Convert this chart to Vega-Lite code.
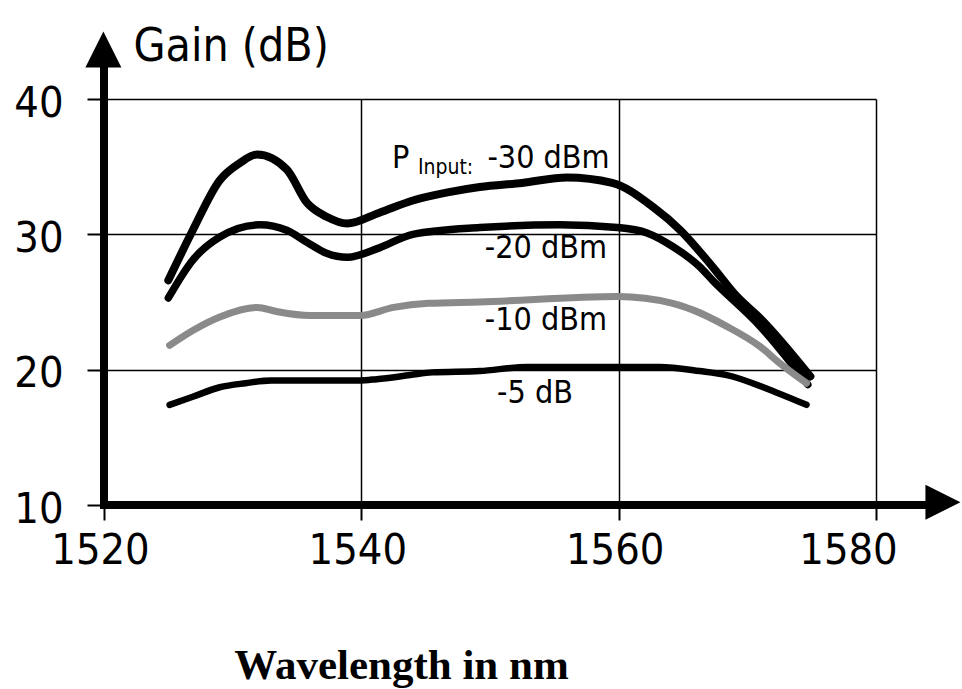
{
  "$schema": "https://vega.github.io/schema/vega-lite/v6.json",
  "width": 772,
  "height": 406,
  "autosize": {"type": "none"},
  "padding": {"left": 104, "top": 99, "right": 86, "bottom": 184},
  "background": "white",
  "config": {
    "view": {"stroke": null},
    "axis": {
      "labelFont": "DejaVu Sans Condensed",
      "labelColor": "black",
      "titleColor": "black",
      "gridColor": "black",
      "gridOpacity": 1,
      "gridWidth": 1.5,
      "tickColor": "black",
      "tickWidth": 2,
      "domain": false,
      "labelFlush": false,
      "labelOverlap": false
    }
  },
  "datasets": {
    "gain": [
      {"power": "-30 dBm", "wavelength": 1525.0, "gain": 26.6},
      {"power": "-30 dBm", "wavelength": 1526.9, "gain": 30.3},
      {"power": "-30 dBm", "wavelength": 1529.0, "gain": 34.0},
      {"power": "-30 dBm", "wavelength": 1530.6, "gain": 35.3},
      {"power": "-30 dBm", "wavelength": 1531.9, "gain": 35.9},
      {"power": "-30 dBm", "wavelength": 1534.2, "gain": 34.8},
      {"power": "-30 dBm", "wavelength": 1535.8, "gain": 32.3},
      {"power": "-30 dBm", "wavelength": 1537.3, "gain": 31.3},
      {"power": "-30 dBm", "wavelength": 1538.9, "gain": 30.8},
      {"power": "-30 dBm", "wavelength": 1541.4, "gain": 31.6},
      {"power": "-30 dBm", "wavelength": 1544.0, "gain": 32.5},
      {"power": "-30 dBm", "wavelength": 1546.7, "gain": 33.1},
      {"power": "-30 dBm", "wavelength": 1549.2, "gain": 33.5},
      {"power": "-30 dBm", "wavelength": 1552.5, "gain": 33.8},
      {"power": "-30 dBm", "wavelength": 1556.0, "gain": 34.2},
      {"power": "-30 dBm", "wavelength": 1559.5, "gain": 33.8},
      {"power": "-30 dBm", "wavelength": 1562.7, "gain": 32.0},
      {"power": "-30 dBm", "wavelength": 1564.8, "gain": 30.3},
      {"power": "-30 dBm", "wavelength": 1567.3, "gain": 27.6},
      {"power": "-30 dBm", "wavelength": 1569.2, "gain": 25.4},
      {"power": "-30 dBm", "wavelength": 1571.0, "gain": 23.8},
      {"power": "-30 dBm", "wavelength": 1574.9, "gain": 19.5},

      {"power": "-20 dBm", "wavelength": 1525.0, "gain": 25.3},
      {"power": "-20 dBm", "wavelength": 1526.9, "gain": 28.1},
      {"power": "-20 dBm", "wavelength": 1529.0, "gain": 29.8},
      {"power": "-20 dBm", "wavelength": 1532.1, "gain": 30.7},
      {"power": "-20 dBm", "wavelength": 1534.2, "gain": 30.3},
      {"power": "-20 dBm", "wavelength": 1535.8, "gain": 29.4},
      {"power": "-20 dBm", "wavelength": 1537.3, "gain": 28.6},
      {"power": "-20 dBm", "wavelength": 1538.9, "gain": 28.3},
      {"power": "-20 dBm", "wavelength": 1541.4, "gain": 29.0},
      {"power": "-20 dBm", "wavelength": 1544.0, "gain": 30.0},
      {"power": "-20 dBm", "wavelength": 1549.2, "gain": 30.5},
      {"power": "-20 dBm", "wavelength": 1555.4, "gain": 30.7},
      {"power": "-20 dBm", "wavelength": 1559.9, "gain": 30.5},
      {"power": "-20 dBm", "wavelength": 1562.2, "gain": 30.1},
      {"power": "-20 dBm", "wavelength": 1564.2, "gain": 29.1},
      {"power": "-20 dBm", "wavelength": 1566.3, "gain": 27.6},
      {"power": "-20 dBm", "wavelength": 1567.3, "gain": 26.6},
      {"power": "-20 dBm", "wavelength": 1571.0, "gain": 23.2},
      {"power": "-20 dBm", "wavelength": 1574.7, "gain": 18.9},

      {"power": "-10 dBm", "wavelength": 1525.1, "gain": 21.8},
      {"power": "-10 dBm", "wavelength": 1526.9, "gain": 22.9},
      {"power": "-10 dBm", "wavelength": 1529.0, "gain": 23.9},
      {"power": "-10 dBm", "wavelength": 1531.9, "gain": 24.6},
      {"power": "-10 dBm", "wavelength": 1533.4, "gain": 24.3},
      {"power": "-10 dBm", "wavelength": 1536.0, "gain": 24.0},
      {"power": "-10 dBm", "wavelength": 1539.9, "gain": 24.0},
      {"power": "-10 dBm", "wavelength": 1542.5, "gain": 24.6},
      {"power": "-10 dBm", "wavelength": 1545.2, "gain": 24.9},
      {"power": "-10 dBm", "wavelength": 1549.2, "gain": 25.0},
      {"power": "-10 dBm", "wavelength": 1559.9, "gain": 25.4},
      {"power": "-10 dBm", "wavelength": 1564.2, "gain": 24.9},
      {"power": "-10 dBm", "wavelength": 1565.8, "gain": 24.4},
      {"power": "-10 dBm", "wavelength": 1568.4, "gain": 23.2},
      {"power": "-10 dBm", "wavelength": 1571.0, "gain": 21.7},
      {"power": "-10 dBm", "wavelength": 1572.5, "gain": 20.5},
      {"power": "-10 dBm", "wavelength": 1574.6, "gain": 19.0},

      {"power": "-5 dB", "wavelength": 1525.1, "gain": 17.4},
      {"power": "-5 dB", "wavelength": 1526.9, "gain": 18.0},
      {"power": "-5 dB", "wavelength": 1529.0, "gain": 18.7},
      {"power": "-5 dB", "wavelength": 1531.0, "gain": 19.0},
      {"power": "-5 dB", "wavelength": 1533.0, "gain": 19.2},
      {"power": "-5 dB", "wavelength": 1539.9, "gain": 19.2},
      {"power": "-5 dB", "wavelength": 1541.2, "gain": 19.3},
      {"power": "-5 dB", "wavelength": 1543.8, "gain": 19.6},
      {"power": "-5 dB", "wavelength": 1545.5, "gain": 19.8},
      {"power": "-5 dB", "wavelength": 1549.2, "gain": 19.9},
      {"power": "-5 dB", "wavelength": 1552.9, "gain": 20.2},
      {"power": "-5 dB", "wavelength": 1563.2, "gain": 20.2},
      {"power": "-5 dB", "wavelength": 1566.3, "gain": 19.9},
      {"power": "-5 dB", "wavelength": 1568.4, "gain": 19.6},
      {"power": "-5 dB", "wavelength": 1572.3, "gain": 18.3},
      {"power": "-5 dB", "wavelength": 1574.6, "gain": 17.4}
    ],
    "labels": [
      {"text": "-30 dBm", "wavelength": 1559.3, "gain": 34.9},
      {"text": "-20 dBm", "wavelength": 1559.1, "gain": 28.26},
      {"text": "-10 dBm", "wavelength": 1559.1, "gain": 22.93},
      {"text": "-5 dB", "wavelength": 1556.45, "gain": 17.54}
    ]
  },
  "layer": [
    {
      "data": {"name": "gain"},
      "mark": {"type": "line", "interpolate": "monotone", "strokeCap": "round", "strokeJoin": "round"},
      "encoding": {
        "x": {
          "field": "wavelength", "type": "quantitative",
          "scale": {"domain": [1520, 1580], "nice": false, "zero": false},
          "axis": {
            "values": [1520, 1540, 1560, 1580],
            "format": "d",
            "grid": true,
            "tickSize": 15,
            "labelFontSize": 43,
            "labelPadding": 9,
            "labelOffset": {"expr": "datum.value == 1580 ? -28 : -4"},
            "title": "Wavelength in nm",
            "titleFont": "Liberation Serif",
            "titleFontSize": 43,
            "titleFontWeight": "bold",
            "titleX": 297,
            "titleY": 173,
            "titleAlign": "center",
            "titleBaseline": "alphabetic"
          }
        },
        "y": {
          "field": "gain", "type": "quantitative",
          "scale": {"domain": [10, 40], "nice": false, "zero": false},
          "axis": {
            "values": [10, 20, 30, 40],
            "format": "d",
            "grid": true,
            "tickSize": 17,
            "labelFontSize": 43,
            "labelPadding": 24,
            "labelOffset": 4,
            "title": "Gain (dB)",
            "titleFont": "DejaVu Sans Condensed",
            "titleFontSize": 46,
            "titleFontWeight": "normal",
            "titleAngle": 0,
            "titleAlign": "left",
            "titleBaseline": "alphabetic",
            "titleX": 29,
            "titleY": -39
          }
        },
        "detail": {"field": "power"},
        "color": {
          "field": "power", "type": "nominal", "legend": null,
          "scale": {"domain": ["-30 dBm", "-20 dBm", "-10 dBm", "-5 dB"], "range": ["black", "black", "#8a8a8a", "black"]}
        },
        "strokeWidth": {
          "field": "power", "type": "nominal", "legend": null,
          "scale": {"domain": ["-30 dBm", "-20 dBm", "-10 dBm", "-5 dB"], "range": [8, 6.5, 6, 7.5]}
        }
      }
    },
    {
      "data": {"values": [{"wavelength": 1520, "gain": 10, "wavelength_end": 1584.2}]},
      "mark": {"type": "rule", "color": "black", "strokeWidth": 8},
      "encoding": {
        "x": {"field": "wavelength", "type": "quantitative"},
        "x2": {"field": "wavelength_end"},
        "y": {"field": "gain", "type": "quantitative"}
      }
    },
    {
      "data": {"values": [{"wavelength": 1520, "gain": 9.7, "gain_end": 42.6}]},
      "mark": {"type": "rule", "color": "black", "strokeWidth": 8},
      "encoding": {
        "x": {"field": "wavelength", "type": "quantitative"},
        "y": {"field": "gain", "type": "quantitative"},
        "y2": {"field": "gain_end"}
      }
    },
    {
      "data": {"values": [{"wavelength": 1585.2, "gain": 10.2}]},
      "mark": {"type": "point", "shape": "M1,0L-1,-1L-1,1Z", "size": 1225, "filled": true, "color": "black", "opacity": 1, "strokeWidth": 0},
      "encoding": {
        "x": {"field": "wavelength", "type": "quantitative"},
        "y": {"field": "gain", "type": "quantitative"}
      }
    },
    {
      "data": {"values": [{"wavelength": 1519.95, "gain": 43.66}]},
      "mark": {"type": "point", "shape": "M0,-1L-1,1L1,1Z", "size": 1296, "filled": true, "color": "black", "opacity": 1, "strokeWidth": 0},
      "encoding": {
        "x": {"field": "wavelength", "type": "quantitative"},
        "y": {"field": "gain", "type": "quantitative"}
      }
    },
    {
      "data": {"name": "labels"},
      "mark": {"type": "text", "align": "right", "baseline": "alphabetic", "font": "DejaVu Sans Condensed", "fontSize": 32, "color": "black"},
      "encoding": {
        "x": {"field": "wavelength", "type": "quantitative"},
        "y": {"field": "gain", "type": "quantitative"},
        "text": {"field": "text"}
      }
    },
    {
      "data": {"values": [{"text": "P", "wavelength": 1542.38, "gain": 34.9}]},
      "mark": {"type": "text", "align": "left", "baseline": "alphabetic", "font": "DejaVu Sans Condensed", "fontSize": 32, "color": "black"},
      "encoding": {
        "x": {"field": "wavelength", "type": "quantitative"},
        "y": {"field": "gain", "type": "quantitative"},
        "text": {"field": "text"}
      }
    },
    {
      "data": {"values": [{"text": "Input:", "wavelength": 1544.4, "gain": 34.46}]},
      "mark": {"type": "text", "align": "left", "baseline": "alphabetic", "font": "DejaVu Sans Condensed", "fontSize": 21, "color": "black"},
      "encoding": {
        "x": {"field": "wavelength", "type": "quantitative"},
        "y": {"field": "gain", "type": "quantitative"},
        "text": {"field": "text"}
      }
    }
  ]
}
